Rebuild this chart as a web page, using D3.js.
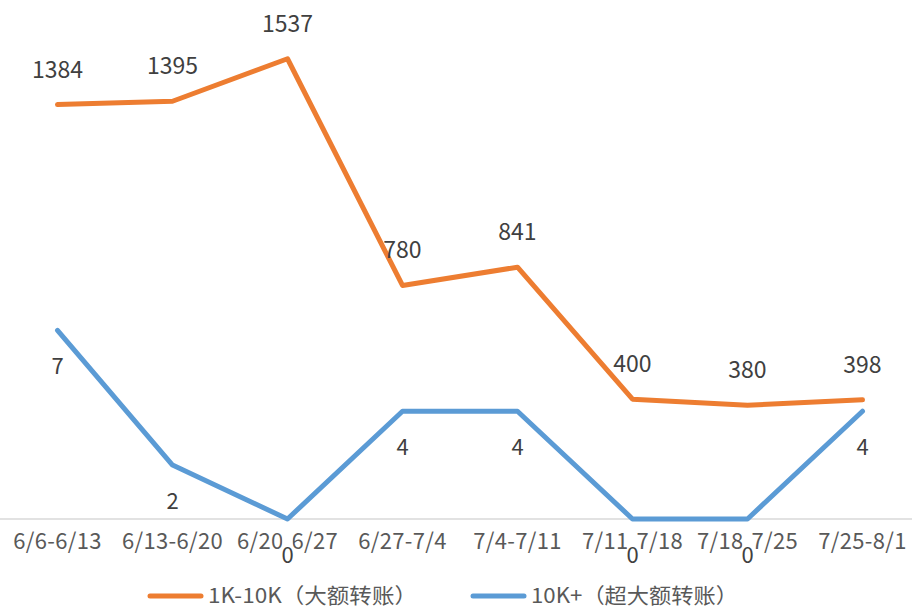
<!DOCTYPE html>
<html><head><meta charset="utf-8">
<script src="https://cdn.jsdelivr.net/npm/d3@7"></script>
<style>body{margin:0;background:#fff}svg{display:block}</style>
</head><body>
<svg id="c" width="912" height="608"></svg>
<script>
const categories = ["6/6-6/13","6/13-6/20","6/20-6/27","6/27-7/4","7/4-7/11","7/11-7/18","7/18-7/25","7/25-8/1"];
const seriesMid = [1384,1395,1537,780,841,400,380,398];
const seriesBig = [7,2,0,4,4,0,0,4];
const seriesNames = ["1K-10K（大额转账）","10K+（超大额转账）"];
const colors = ["#ED7D31","#5B9BD5"];
const font = "'Noto Sans CJK SC', 'Noto Sans', sans-serif";

const svg = d3.select("#c");
const x = d3.scaleBand().domain(categories).range([0, 920]);
const cx = d => x(d) + x.bandwidth()/2;
const yL = d3.scaleLinear().domain([0,1800]).range([519,-20]);
const yR = d3.scaleLinear().domain([0,20]).range([519,-20]);

// axis
const ax = svg.append("g").attr("transform","translate(0,519)")
  .call(d3.axisBottom(x).tickSize(0).tickPadding(14));
ax.select(".domain").attr("stroke","#d9d9d9").attr("stroke-width",1.5).attr("d","M0,0H912");
ax.selectAll("text").attr("font-family",font).attr("font-size",22).attr("fill","#595959")
  .attr("letter-spacing",0.3);

const line = (ys) => d3.line().x((d,i)=>cx(categories[i])).y(d=>ys(d));
svg.append("path").datum(seriesMid).attr("d",line(yL)).attr("fill","none")
  .attr("stroke",colors[0]).attr("stroke-width",5).attr("stroke-linecap","round").attr("stroke-linejoin","round");
svg.append("path").datum(seriesBig).attr("d",line(yR)).attr("fill","none")
  .attr("stroke",colors[1]).attr("stroke-width",5).attr("stroke-linecap","round").attr("stroke-linejoin","round");

svg.selectAll(".lm").data(seriesMid).enter().append("text")
  .attr("x",(d,i)=>cx(categories[i])).attr("y",d=>yL(d)-27)
  .attr("text-anchor","middle").attr("font-family",font).attr("font-size",23).attr("fill","#404040").text(d=>d);
const lb = svg.selectAll(".lb").data(seriesBig).enter().append("g")
  .attr("transform",(d,i)=>`translate(${cx(categories[i])},${yR(d)+44})`);
lb.append("rect").attr("x",-5).attr("y",-26).attr("width",10).attr("height",29).attr("fill","#fff");
lb.append("text").attr("text-anchor","middle").attr("font-family",font).attr("font-size",22)
  .attr("fill","#404040").text(d=>d);

// legend
const lg = svg.append("g");
const lx = [148, 471];
const lw = [209, 207];
seriesNames.forEach((n,i)=>{
  lg.append("line").attr("x1",lx[i]+2).attr("x2",lx[i]+53).attr("y1",596).attr("y2",596)
    .attr("stroke",colors[i]).attr("stroke-width",5).attr("stroke-linecap","round");
  lg.append("text").attr("x",lx[i]+60).attr("y",603).attr("font-family",font).attr("font-size",21)
    .attr("fill","#595959").attr("textLength",lw[i]).attr("lengthAdjust","spacingAndGlyphs").text(n);
});
</script>
</body></html>
